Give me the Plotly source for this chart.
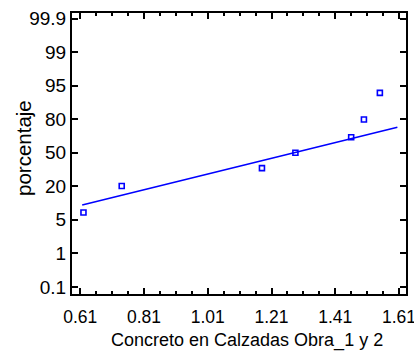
import plotly.graph_objects as go
from statistics import NormalDist

# ---- data ----
concreto = [0.62, 0.74, 1.18, 1.285, 1.46, 1.50, 1.55]
fit_mean = 1.282
fit_sd = 0.558
line_x = [0.616, 1.605]
x_ticks = [0.61, 0.81, 1.01, 1.21, 1.41, 1.61]
y_labels = ["0.1", "1", "5", "20", "50", "80", "95", "99", "99.9"]
label_step = 0.765  # z-distance between successive percent labels

nd = NormalDist()
n = len(concreto)
xs = sorted(concreto)
zs = [nd.inv_cdf((i + 1 - 0.375) / (n + 0.25)) for i in range(n)]
line_z = [(x - fit_mean) / fit_sd for x in line_x]
y_tickvals = [(k - 4) * label_step for k in range(len(y_labels))]

FONT = "Liberation Sans, Arial, sans-serif"
L, R, T, B = 72, 406, 13, 294
W, H = 414, 354

def px(x):
    return (x - L) / (R - L)

def py(y):
    return (B - y) / (B - T)

fig = go.Figure()
fig.add_trace(go.Scatter(x=line_x, y=line_z, mode="lines",
                         line=dict(color="#0000FF", width=1.6), hoverinfo="skip"))
fig.add_trace(go.Scatter(x=xs, y=zs, mode="markers",
                         marker=dict(symbol="square-open", size=5,
                                     color="#0000FF", line=dict(width=1.6, color="#0000FF"))))

fig.update_layout(
    width=W, height=H,
    margin=dict(l=L, r=W - R, t=T, b=H - B, autoexpand=False),
    paper_bgcolor="white", plot_bgcolor="white",
    showlegend=False,
    font=dict(family=FONT, color="black"),
    xaxis=dict(range=[0.584, 1.632], tickvals=x_ticks,
               ticktext=[f"{v:.2f}" for v in x_ticks],
               ticks="inside", ticklen=6, tickwidth=1.5, tickcolor="#000000",
               showline=True, linewidth=2, linecolor="#000000", mirror="allticks",
               showgrid=False, zeroline=False, ticklabeloverflow="allow",
               ticklabelstandoff=6,
               tickfont=dict(size=17.5, family=FONT, color="black"),
               minor=dict(ticks="inside", ticklen=3, tickwidth=1.5, tickcolor="#000000",
                          dtick=0.05, tick0=0.61, showgrid=False)),
    yaxis=dict(range=[-3.223, 3.186], tickvals=y_tickvals, ticktext=y_labels,
               ticks="inside", ticklen=6, tickwidth=1.5, tickcolor="#000000",
               showline=True, linewidth=2, linecolor="#000000", mirror="allticks",
               showgrid=False, zeroline=False,
               tickfont=dict(size=19, family=FONT, color="black")),
    annotations=[
        dict(text="Concreto en Calzadas Obra_1 y 2", x=px(246.5), y=py(340),
             xref="paper", yref="paper", xanchor="center", yanchor="middle",
             showarrow=False, font=dict(size=18, family=FONT, color="black")),
        dict(text="porcentaje", x=px(23), y=py(148), xref="paper", yref="paper",
             xanchor="center", yanchor="middle", textangle=-90,
             showarrow=False, font=dict(size=20.5, family=FONT, color="black")),
    ],
)

fig.write_html("out.html", config={"displayModeBar": False})
with open("out.html", encoding="utf-8") as f:
    html = f.read()
html = html.replace("<head>", "<head><style>html,body{margin:0;padding:0;overflow:hidden}</style>", 1)
with open("out.html", "w", encoding="utf-8") as f:
    f.write(html)
